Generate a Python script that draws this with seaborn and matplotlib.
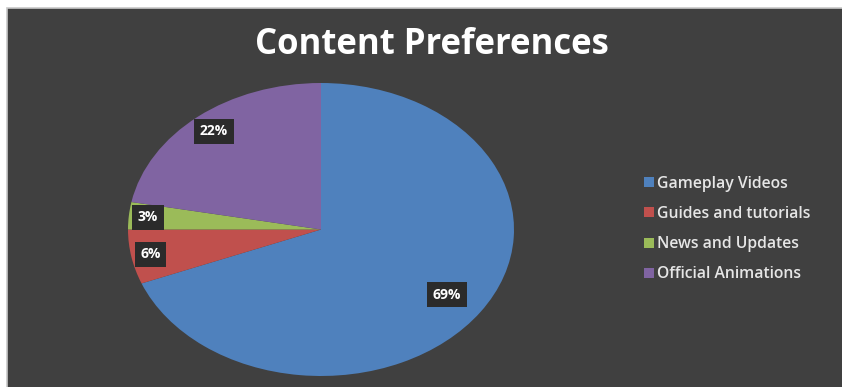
import numpy as np
import pandas as pd
import matplotlib
matplotlib.use("Agg")
import matplotlib.pyplot as plt
import seaborn as sns
from matplotlib.patches import Rectangle

categories = ["Gameplay Videos", "Guides and tutorials", "News and Updates", "Official Animations"]
values = [69, 6, 3, 22]
pct_labels = ["69%", "6%", "3%", "22%"]
colors = ["#4F81BD", "#C0504D", "#9BBB59", "#8064A2"]

sns.set_theme(style="dark")
plt.rcParams["font.family"] = ["Open Sans", "DejaVu Sans"]

W, H = 842, 387
fig = plt.figure(figsize=(W / 100, H / 100), dpi=100)
fig.patch.set_facecolor("white")

# dark chart area
bg = fig.add_axes([0, 0, 1, 1], zorder=0)
bg.set_xlim(0, W); bg.set_ylim(H, 0); bg.axis("off")
bg.add_patch(Rectangle((6.5, 7.5), W, H, facecolor="#404040", edgecolor="#c8c8c8", lw=1.2))

fig.text(432 / W, 1 - 45 / H, "Content Preferences", color="white", fontsize=25,
         fontweight="bold", ha="center", va="center")

# pie axes (elliptical pie)
x0, x1, y0, y1 = 128, 514, 83, 376
ax = fig.add_axes([x0 / W, 1 - y1 / H, (x1 - x0) / W, (y1 - y0) / H], zorder=1)
df = pd.DataFrame({"category": categories, "value": values})
wedges, _ = ax.pie(df["value"], colors=colors, startangle=90, counterclock=False,
                   radius=1, wedgeprops=dict(linewidth=0))
ax.set_aspect("auto")
ax.set_xlim(-1, 1); ax.set_ylim(-1, 1)
ax.axis("off")

dists = [0.79, 0.9, 0.9, 0.87]
for w, lab, d in zip(wedges, pct_labels, dists):
    ang = np.deg2rad((w.theta1 + w.theta2) / 2)
    ax.text(d * np.cos(ang), d * np.sin(ang), lab, ha="center", va="center",
            color="white", fontsize=10, fontweight="bold",
            bbox=dict(boxstyle="square,pad=0.4", facecolor="#2b2b2b", edgecolor="none"))

handles = [plt.Rectangle((0, 0), 1, 1, facecolor=c, edgecolor="none") for c in colors]
leg = fig.legend(handles, categories, loc="center left", bbox_to_anchor=(630 / W, 1 - 229 / H),
                 frameon=False, handlelength=0.6, handleheight=0.6,
                 handletextpad=0.2, labelspacing=0.9, labelcolor="#e6e6e6",
                 prop=dict(family=["Open Sans", "DejaVu Sans"], weight="semibold", size=11.3))

fig.savefig("out.png", dpi=100, facecolor=fig.get_facecolor())
